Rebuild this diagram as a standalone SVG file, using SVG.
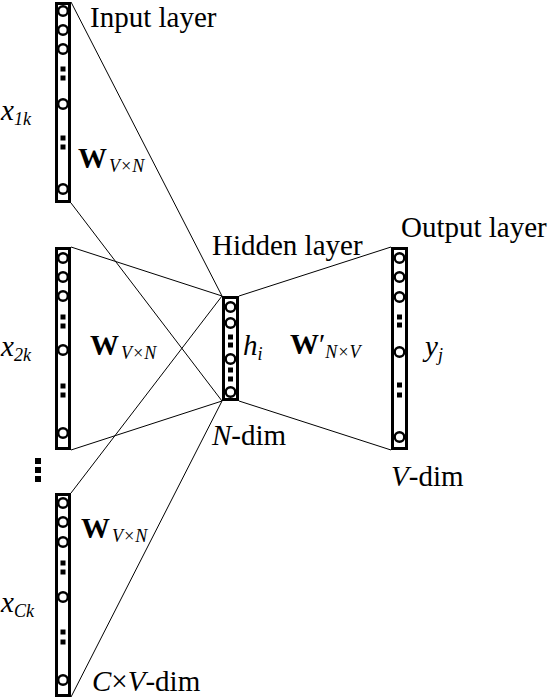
<svg xmlns="http://www.w3.org/2000/svg" width="548" height="698" viewBox="0 0 548 698">
<style>
.col{fill:#fff;stroke:#000;stroke-width:3}
.n{fill:#fff;stroke:#000;stroke-width:2.4}
.d{fill:#000}
.c line{stroke:#000;stroke-width:1}
.t{font-size:29px}
.i{font-style:italic}
.b{font-weight:bold}
.s{font-size:18px;font-style:italic;font-weight:normal}
</style>
<rect width="548" height="698" fill="#fff"/>
<g id="connectors" class="c">
<line x1="71" y1="2" x2="222" y2="296"/>
<line x1="71" y1="203" x2="222" y2="401"/>
<line x1="71" y1="247" x2="222" y2="296"/>
<line x1="71" y1="450" x2="222" y2="401"/>
<line x1="71" y1="493" x2="222" y2="296"/>
<line x1="71" y1="697" x2="222" y2="401"/>
<line x1="239" y1="296" x2="391" y2="247"/>
<line x1="239" y1="401" x2="391" y2="450"/>
</g>
<g id="input1">
<rect class="col" x="56.5" y="3.5" width="13" height="198"/>
<circle class="n" cx="63" cy="11" r="4.8"/>
<circle class="n" cx="63" cy="30" r="4.8"/>
<circle class="n" cx="63" cy="49" r="4.8"/>
<rect class="d" x="60.5" y="66.5" width="5" height="5"/>
<rect class="d" x="60.5" y="75.5" width="5" height="5"/>
<circle class="n" cx="63" cy="104" r="4.8"/>
<rect class="d" x="60.5" y="135.5" width="5" height="5"/>
<rect class="d" x="60.5" y="144.5" width="5" height="5"/>
<circle class="n" cx="63" cy="189" r="4.8"/>
</g>
<g id="input2">
<rect class="col" x="56.5" y="248.5" width="13" height="200"/>
<circle class="n" cx="63" cy="258" r="4.8"/>
<circle class="n" cx="63" cy="277" r="4.8"/>
<circle class="n" cx="63" cy="296" r="4.8"/>
<rect class="d" x="60.5" y="314.5" width="5" height="5"/>
<rect class="d" x="60.5" y="323.5" width="5" height="5"/>
<circle class="n" cx="63" cy="350" r="4.8"/>
<rect class="d" x="60.5" y="383.5" width="5" height="5"/>
<rect class="d" x="60.5" y="392.5" width="5" height="5"/>
<circle class="n" cx="63" cy="433" r="4.8"/>
</g>
<g id="ellipsis">
<rect class="d" x="35" y="458" width="6" height="6"/>
<rect class="d" x="35" y="467" width="6" height="6"/>
<rect class="d" x="35" y="476" width="6" height="6"/>
</g>
<g id="input3">
<rect class="col" x="56.5" y="494.5" width="13" height="201"/>
<circle class="n" cx="63" cy="503" r="4.8"/>
<circle class="n" cx="63" cy="522" r="4.8"/>
<circle class="n" cx="63" cy="542" r="4.8"/>
<rect class="d" x="60.5" y="560.5" width="5" height="5"/>
<rect class="d" x="60.5" y="569.5" width="5" height="5"/>
<circle class="n" cx="63" cy="597" r="4.8"/>
<rect class="d" x="60.5" y="629.5" width="5" height="5"/>
<rect class="d" x="60.5" y="639.5" width="5" height="5"/>
<circle class="n" cx="63" cy="680" r="4.8"/>
</g>
<g id="hidden">
<rect class="col" x="223.5" y="297.5" width="14" height="102"/>
<circle class="n" cx="230.5" cy="307" r="4.8"/>
<circle class="n" cx="230.5" cy="323" r="4.8"/>
<rect class="d" x="228" y="334.5" width="5" height="5"/>
<rect class="d" x="228" y="342.5" width="5" height="5"/>
<circle class="n" cx="230.5" cy="359" r="4.8"/>
<rect class="d" x="228" y="367.5" width="5" height="5"/>
<rect class="d" x="228" y="376.5" width="5" height="5"/>
<circle class="n" cx="230.5" cy="392" r="4.8"/>
</g>
<g id="output">
<rect class="col" x="392.5" y="248.5" width="14" height="200"/>
<circle class="n" cx="399.5" cy="258" r="4.8"/>
<circle class="n" cx="399.5" cy="277" r="4.8"/>
<circle class="n" cx="399.5" cy="297" r="4.8"/>
<rect class="d" x="397" y="314.5" width="5" height="5"/>
<rect class="d" x="397" y="322.5" width="5" height="5"/>
<circle class="n" cx="399.5" cy="352" r="4.8"/>
<rect class="d" x="397" y="382.5" width="5" height="5"/>
<rect class="d" x="397" y="392.5" width="5" height="5"/>
<circle class="n" cx="399.5" cy="437" r="4.8"/>
</g>
<g id="labels" font-family="'Liberation Serif', 'DejaVu Serif', serif" fill="#000">
<text class="t" x="90" y="27">Input layer</text>
<text class="t" x="212" y="255">Hidden layer</text>
<text class="t" x="401" y="237">Output layer</text>
<text class="t i" x="1" y="120">x<tspan class="s" dy="5">1k</tspan></text>
<text class="t i" x="1" y="356">x<tspan class="s" dy="5">2k</tspan></text>
<text class="t i" x="1" y="612">x<tspan class="s" dy="5">Ck</tspan></text>
<text class="t b" x="78" y="168">W<tspan class="s" dx="2" dy="4">V×N</tspan></text>
<text class="t b" x="90" y="355">W<tspan class="s" dx="2" dy="4">V×N</tspan></text>
<text class="t b" x="81" y="538">W<tspan class="s" dx="2" dy="4">V×N</tspan></text>
<text class="t b" x="290" y="354">W<tspan font-weight="normal">′</tspan><tspan class="s" dy="4">N×V</tspan></text>
<text class="t i" x="243" y="355">h<tspan class="s" dy="5">i</tspan></text>
<text class="t i" x="425" y="356">y<tspan class="s" dy="5">j</tspan></text>
<text class="t" x="212" y="445"><tspan class="i">N</tspan>-dim</text>
<text class="t" x="391" y="486"><tspan class="i">V</tspan>-dim</text>
<text class="t" x="92" y="691"><tspan class="i">C</tspan>×<tspan class="i">V</tspan>-dim</text>
</g>
</svg>
